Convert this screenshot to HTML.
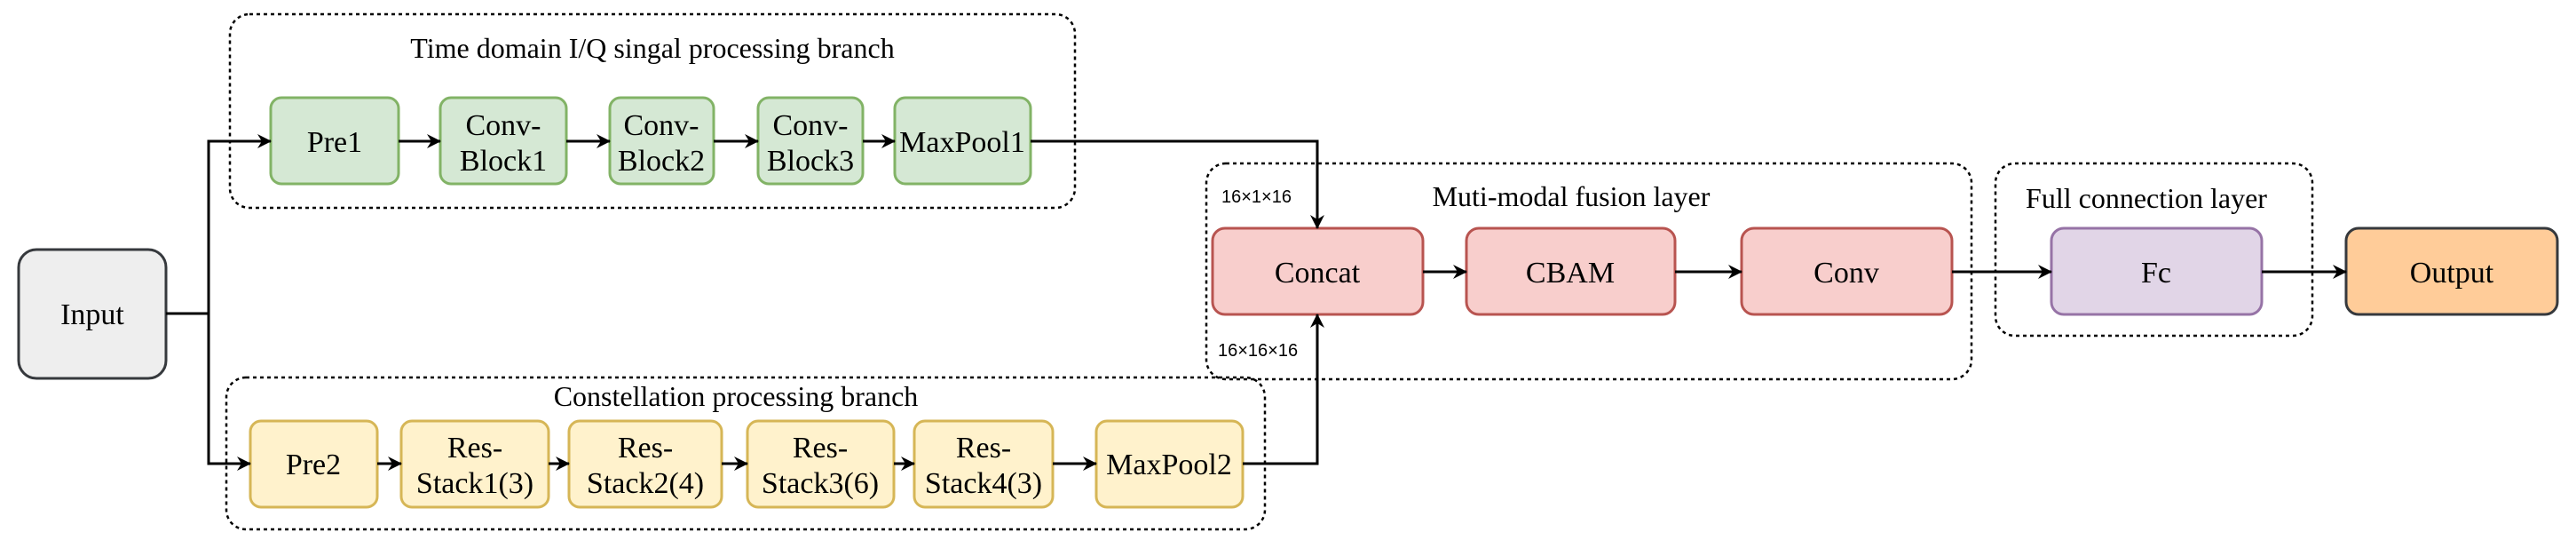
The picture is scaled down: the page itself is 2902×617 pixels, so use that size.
<!DOCTYPE html>
<html><head><meta charset="utf-8"><style>
html,body{margin:0;padding:0;background:#fff;}
svg{display:block;}
.t{font-family:"Liberation Serif",serif;font-size:34px;fill:#000;text-anchor:middle;}
.g{font-family:"Liberation Serif",serif;font-size:32px;fill:#000;text-anchor:middle;}
.s{font-family:"Liberation Sans",sans-serif;font-size:20px;fill:#000;}
</style></head><body>
<svg width="2902" height="617" viewBox="0 0 2902 617" xmlns="http://www.w3.org/2000/svg">
<defs>
<marker id="a" markerWidth="16" markerHeight="16" refX="15" refY="8" orient="auto" markerUnits="userSpaceOnUse" viewBox="0 0 16 16">
<path d="M0,0 L16,8 L0,16 L5,8 Z" fill="#000"/>
</marker>
</defs>
<g fill="none" stroke="#000" stroke-width="2.5" stroke-dasharray="4 4">
<rect x="259" y="16" width="952" height="218" rx="22"/>
<rect x="255" y="425" width="1170" height="171" rx="22"/>
<rect x="1359" y="184" width="862" height="243" rx="22"/>
<rect x="2248" y="184" width="357" height="194" rx="22"/>
</g>
<text class="g" x="735" y="65">Time domain I/Q singal processing branch</text>
<text class="g" x="829" y="457">Constellation processing branch</text>
<text class="g" x="1770" y="232">Muti-modal fusion layer</text>
<text class="g" x="2418" y="234">Full connection layer</text>
<text class="s" x="1376" y="228">16×1×16</text>
<text class="s" x="1372" y="401">16×16×16</text>

<g stroke-width="3">
<rect x="21" y="281" width="166" height="145" rx="20" fill="#eeeeee" stroke="#36393d"/>
<g fill="#d5e8d4" stroke="#82b366">
<rect x="305" y="110" width="144" height="97" rx="12"/>
<rect x="496" y="110" width="142" height="97" rx="12"/>
<rect x="687" y="110" width="117" height="97" rx="12"/>
<rect x="854" y="110" width="118" height="97" rx="12"/>
<rect x="1008" y="110" width="153" height="97" rx="12"/>
</g>
<g fill="#fff2cc" stroke="#d6b656">
<rect x="282" y="474" width="143" height="97" rx="12"/>
<rect x="452" y="474" width="166" height="97" rx="12"/>
<rect x="641" y="474" width="172" height="97" rx="12"/>
<rect x="842" y="474" width="165" height="97" rx="12"/>
<rect x="1030" y="474" width="156" height="97" rx="12"/>
<rect x="1235" y="474" width="165" height="97" rx="12"/>
</g>
<g fill="#f8cecc" stroke="#b85450">
<rect x="1366" y="257" width="237" height="97" rx="14"/>
<rect x="1652" y="257" width="235" height="97" rx="14"/>
<rect x="1962" y="257" width="237" height="97" rx="14"/>
</g>
<rect x="2311" y="257" width="237" height="97" rx="14" fill="#e1d5e7" stroke="#9673a6"/>
<rect x="2643" y="257" width="238" height="97" rx="14" fill="#ffcc99" stroke="#36393d"/>
</g>

<g fill="none" stroke="#000" stroke-width="3" marker-end="url(#a)">
<polyline points="187,353 235,353 235,159 305,159"/>
<polyline points="235,353 235,522 282,522"/>
<line x1="449" y1="159" x2="496" y2="159"/>
<line x1="638" y1="159" x2="687" y2="159"/>
<line x1="804" y1="159" x2="854" y2="159"/>
<line x1="972" y1="159" x2="1008" y2="159"/>
<polyline points="1161,159 1484,159 1484,257"/>
<line x1="425" y1="522" x2="452" y2="522"/>
<line x1="618" y1="522" x2="641" y2="522"/>
<line x1="813" y1="522" x2="842" y2="522"/>
<line x1="1007" y1="522" x2="1030" y2="522"/>
<line x1="1186" y1="522" x2="1235" y2="522"/>
<polyline points="1400,522 1484,522 1484,354"/>
<line x1="1603" y1="306" x2="1652" y2="306"/>
<line x1="1887" y1="306" x2="1962" y2="306"/>
<line x1="2199" y1="306" x2="2311" y2="306"/>
<line x1="2548" y1="306" x2="2643" y2="306"/>
</g>

<text class="t" x="104" y="365">Input</text>
<text class="t" x="377" y="171">Pre1</text>
<text class="t" x="567" y="152">Conv-</text><text class="t" x="567" y="192">Block1</text>
<text class="t" x="745" y="152">Conv-</text><text class="t" x="745" y="192">Block2</text>
<text class="t" x="913" y="152">Conv-</text><text class="t" x="913" y="192">Block3</text>
<text class="t" x="1084" y="171">MaxPool1</text>
<text class="t" x="353" y="534">Pre2</text>
<text class="t" x="535" y="515">Res-</text><text class="t" x="535" y="555">Stack1(3)</text>
<text class="t" x="727" y="515">Res-</text><text class="t" x="727" y="555">Stack2(4)</text>
<text class="t" x="924" y="515">Res-</text><text class="t" x="924" y="555">Stack3(6)</text>
<text class="t" x="1108" y="515">Res-</text><text class="t" x="1108" y="555">Stack4(3)</text>
<text class="t" x="1317" y="534">MaxPool2</text>
<text class="t" x="1484" y="318">Concat</text>
<text class="t" x="1769" y="318">CBAM</text>
<text class="t" x="2080" y="318">Conv</text>
<text class="t" x="2429" y="318">Fc</text>
<text class="t" x="2762" y="318">Output</text>
</svg>
</body></html>
